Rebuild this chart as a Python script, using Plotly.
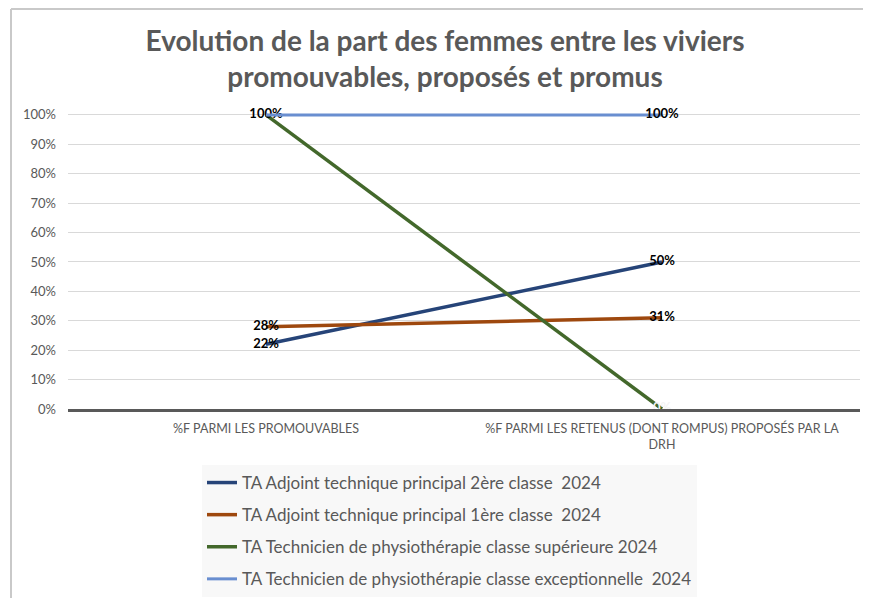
import plotly.graph_objects as go

categories = ["%F PARMI LES PROMOUVABLES",
              "%F PARMI LES RETENUS (DONT ROMPUS) PROPOSÉS PAR LA DRH"]
tick_labels = ["%F PARMI LES PROMOUVABLES",
               "%F PARMI LES RETENUS (DONT ROMPUS) PROPOSÉS PAR LA<br>DRH"]

series_names = [
    "TA Adjoint technique principal 2ère classe  2024",
    "TA Adjoint technique principal 1ère classe  2024",
    "TA Technicien de physiothérapie classe supérieure 2024",
    "TA Technicien de physiothérapie classe exceptionnelle  2024",
]
adjoint_2e = [0.22, 0.50]
adjoint_1e = [0.28, 0.31]
physio_sup = [1.00, 0.00]
physio_exc = [1.00, 1.00]
series_values = [adjoint_2e, adjoint_1e, physio_sup, physio_exc]

colors = ["#264478", "#9E480E", "#43682B", "#698ED0"]
widths = [3.5, 3.5, 3.5, 3]
label_colors = [["#000000", "#000000"], ["#000000", "#000000"],
                ["#000000", "#F4F4F4"], ["#000000", "#000000"]]

FONT = "Lato, 'Open Sans', sans-serif"

fig = go.Figure()
for i, (name, vals) in enumerate(zip(series_names, series_values)):
    texts = [f"{round(v*100):.0f}%" for v in vals]
    if i == 3:
        texts = ["", texts[1]]
    fig.add_trace(go.Scatter(
        x=categories, y=vals, name=name, mode="lines+text",
        text=texts, textposition="middle center",
        textfont=dict(family=FONT, size=13, color=label_colors[i], weight="bold"),
        line=dict(color=colors[i], width=widths[i]),
        legendgroup=f"g{i}", cliponaxis=False,
    ))

# The page adds an 8px body margin, so figure coords = page coords - 8
W, H = 863, 590
L, R, T, B = 60, 11, 101, 189
pw, ph = W - L - R, H - T - B

def px(xp):
    return (xp - L) / pw

def py(yp):
    return (H - B - yp) / ph

border = dict(color="#C9C9C9", width=2)
fig.add_shape(type="line", xref="paper", yref="paper",
              x0=px(3), x1=px(W + 5), y0=py(1), y1=py(1), line=border)
fig.add_shape(type="line", xref="paper", yref="paper",
              x0=px(3), x1=px(3), y0=py(1), y1=py(H + 5), line=border)

fig.update_layout(
    width=W, height=H,
    margin=dict(l=L, r=R, t=T, b=B, autoexpand=False),
    paper_bgcolor="white", plot_bgcolor="white",
    title=dict(
        text="Evolution de la part des femmes entre les viviers<br>promouvables, proposés et promus",
        x=437 / W, xanchor="center", y=1 - 43 / H, yanchor="top",
        font=dict(family=FONT, size=28, color="#595959", weight="bold"),
    ),
    showlegend=True,
    legend=dict(
        x=px(194), xanchor="left", y=py(457), yanchor="top",
        bgcolor="#F8F8F8", font=dict(family=FONT, size=17, color="#595959"),
        tracegroupgap=7, itemwidth=30,
    ),
    xaxis=dict(
        type="category", range=[-0.5, 1.5],
        tickvals=categories, ticktext=tick_labels,
        showgrid=False, showline=True, linecolor="#595959", linewidth=2.5,
        ticks="", ticklabelstandoff=6,
        tickfont=dict(family=FONT, size=12.5, color="#595959"),
        fixedrange=True,
    ),
    yaxis=dict(
        range=[0, 1.02], tickvals=[i / 10 for i in range(11)], tickformat=".0%",
        showgrid=True, gridcolor="#D9D9D9", gridwidth=1,
        zeroline=False, showline=False, ticks="",
        ticklabelstandoff=11,
        tickfont=dict(family=FONT, size=13, color="#595959"),
    ),
)

fig.write_html("out.html")
